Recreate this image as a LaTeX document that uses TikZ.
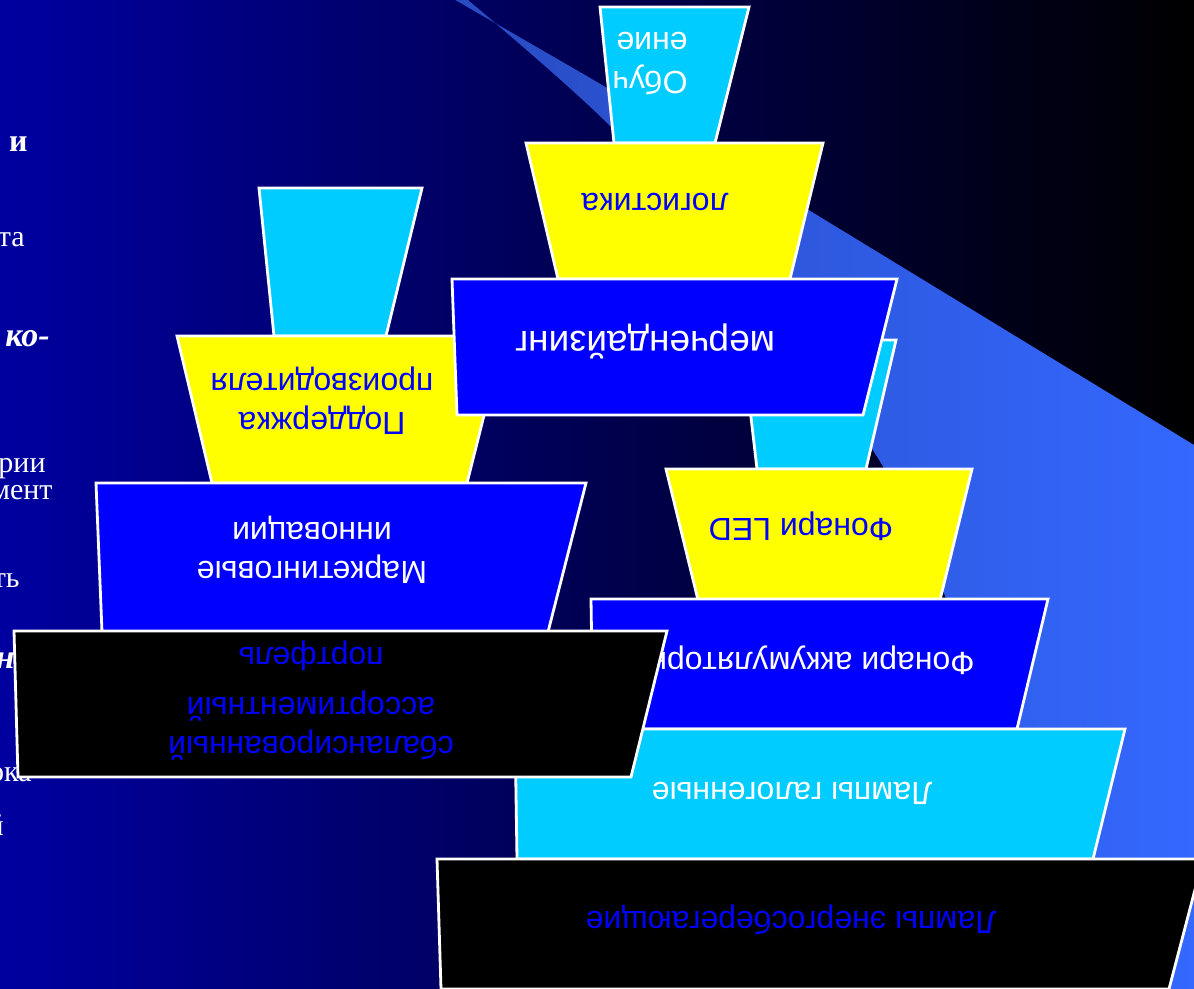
\documentclass[tikz,border=0pt]{standalone}
\usepackage{fontspec}
\setmainfont{Liberation Serif}
\setsansfont{Liberation Sans}
\definecolor{bgdeep}{RGB}{0,0,160}
\definecolor{swleft}{RGB}{40,74,192}
\definecolor{swright}{RGB}{52,104,255}
\definecolor{tcyan}{RGB}{0,204,255}
\definecolor{tyellow}{RGB}{255,255,0}
\definecolor{tblue}{RGB}{0,0,255}

\begin{document}
\begin{tikzpicture}[x=0.5pt, y=-0.5pt,
tier/.style = {
    draw=white, fill=#1,
    line width=1.4pt,
              },
tiertext/.style = {
    rotate=180, inner sep=0pt, align=center,
    font=\sffamily\fontsize{16}{19.5}\selectfont,
    text=#1,
              },
frag/.style = {
    anchor=base east, inner sep=0pt, text=white,
    font=\fontsize{15}{17}\selectfont,
              },
                    ]
\useasboundingbox (0,0) rectangle (1194,989);
\clip (0,0) rectangle (1194,989);
% backdrop and swoosh
\shade[left color=bgdeep, right color=black] (0,0) rectangle (1194,989);
\shade[left color=swleft, right color=swright]
    (438,-10) .. controls (550,55) and (700,140) .. (807,209)
              -- (1194,445) -- (1200,995)
    -- plot[smooth] coordinates {(1102,995) (1010,760) (946,598)
                              (876,455) (757,300) (612,128) (456,-10)}
    -- cycle;
% cut-off lines of the slide text
\node[frag, font=\bfseries\fontsize{16}{19}\selectfont] (fragA) at (28,152) {и};
\node[frag] (fragB) at (25,247) {та};
\node[frag, font=\bfseries\itshape\fontsize{17}{20}\selectfont] (fragC) at (50,347) {ко-};
\node[frag] (fragD) at (46,473) {рии};
\node[frag] (fragE) at (53,500) {мент};
\node[frag] (fragF) at (20,587) {ть};
\node[frag, font=\bfseries\itshape\fontsize{17}{20}\selectfont] (fragG) at (15,668) {н};
\node[frag] (fragH) at (32,781) {ока};
\node[frag] (fragI) at (4,835) {й};
% left pile
\path[tier=tcyan]   (259,188) -- (422,188) -- (386,336) -- (274,336) -- cycle;
\path[tier=tyellow] (177,336) -- (504,336) -- (467,483) -- (212,483) -- cycle;
\node[tiertext=tblue] (support) at (322,401) {Поддержка\\производителя};
\path[tier=tblue]   (96,483) -- (586,483) -- (548,632) -- (102,632) -- cycle;
\node[tiertext=white] (mkt) at (312,550) {Маркетинговые\\инновации};
% right pile
\path[tier=tcyan]   (742,340) -- (896,340) -- (866,469) -- (757,469) -- cycle;
\path[tier=tyellow] (666,469) -- (972,469) -- (940,600) -- (698,600) -- cycle;
\node[tiertext=tblue] (led) at (801,526) {Фонари LED};
\path[tier=tblue]   (591,599) -- (1048,599) -- (1017,729) -- (593,729) -- cycle;
\node[tiertext=white, anchor=west] (accum) at (975,660) {Фонари аккумуляторные};
\path[tier=tcyan]   (515,729) -- (1125,729) -- (1093,859) -- (517,859) -- cycle;
\node[tiertext=white] (halogen) at (792,793) {Лампы галогенные};
\path[tier=black]   (437,859) -- (1203,859) -- (1169,989) -- (441,989) -- cycle;
\node[tiertext=tblue] (saving) at (791,920) {Лампы энергосберегающие};
% middle pile
\path[tier=tcyan]   (600,7) -- (749,7) -- (715,143) -- (614,143) -- cycle;
\node[tiertext=white, align=left] (teach) at (650,64) {Обуч\\ение};
\path[tier=tyellow] (526,143) -- (823,143) -- (790,279) -- (558,279) -- cycle;
\node[tiertext=tblue] (logist) at (655,202) {логистика};
\path[tier=tblue]   (452,279) -- (897,279) -- (863,415) -- (457,415) -- cycle;
\node[tiertext=white, font=\sffamily\fontsize{18.5}{21}\selectfont] (merch) at (645,341) {мерчендайзинг};
% portfolio block on top
\path[tier=black]   (14,631) -- (667,631) -- (631,777) -- (18,777) -- cycle;
\node[tiertext=tblue] (portf) at (311,701)
    {сбалансированный\\ассортиментный\\[5.5pt]портфель};
\end{tikzpicture}
\end{document}
